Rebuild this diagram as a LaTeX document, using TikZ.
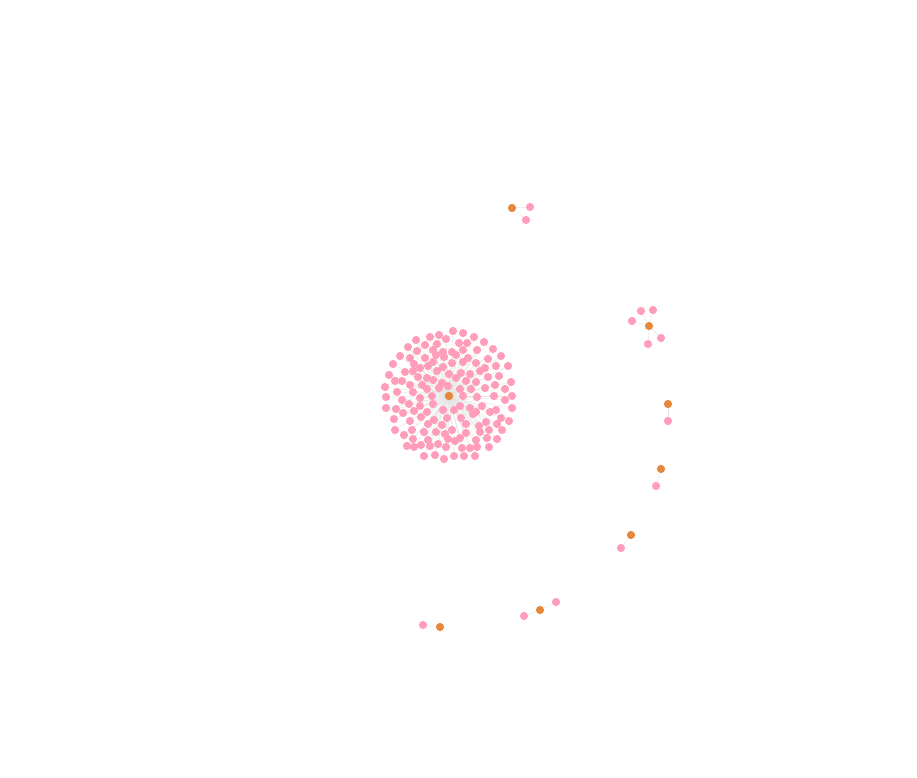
\documentclass[tikz,border=0pt]{standalone}
\usepackage{xcolor}
\usepackage{tikz}
\usetikzlibrary{positioning,backgrounds}
\definecolor{leafpink}{HTML}{FF9DBB}
\definecolor{huborange}{HTML}{E6883B}

\begin{document}
\begin{tikzpicture}[
    x=1pt, y=-1pt,
    leaf/.style={
        circle,
        fill=leafpink,
        inner sep=0pt,
        minimum size=8.2pt
    },
    hub/.style={
        circle,
        fill=huborange,
        inner sep=0pt,
        minimum size=8.2pt
    },
    tie/.style={draw=gray!22, line width=0.4pt}
]

\useasboundingbox (0,0) rectangle (917,777);

% central star
\node[hub] (c0) at (449,396) {};
\foreach \px/\py [count=\i] in {
453/331,463/333,439/335,474/337,430/337,
416/340,446/339,484/342,425/345,437/344,459/343,467/343,
408/347,493/349,433/350,452/352,463/350,477/350,443/352,417/351,
400/356,501/356,410/358,425/358,436/355,456/355,468/358,488/359,444/357,
393/364,508/366,414/364,433/362,452/363,463/362,476/363,496/366,420/368,485/368,443/367,428/366,
389/375,405/372,413/371,437/371,449/374,461/373,470/374,480/371,499/376,511/382,395/381,418/377,427/378,456/378,488/377,
385/387,402/381,410/385,422/385,433/380,442/383,466/381,476/382,495/385,505/389,397/392,413/392,427/389,439/388,460/389,471/389,485/388,
386/397,512/396,402/400,420/398,432/396,463/396,477/397,494/396,505/400,448/386,
386/408,396/409,409/404,420/406,433/404,443/410,460/406,470/408,482/406,496/410,512/408,403/413,414/411,427/412,454/410,476/412,490/412,
394/419,410/421,421/417,434/420,447/418,461/418,473/414,486/422,501/418,509/421,428/424,442/425,466/424,479/426,497/424,
395/430,412/430,424/432,436/432,452/430,466/433,480/432,489/430,502/430,404/435,445/434,
413/439,428/440,448/439,460/438,476/440,497/439,487/438,421/445,438/444,455/441,
407/446,430/446,446/447,462/448,477/447,489/447,414/447,424/456,435/455,444/459,454/456,464/456,475/456,470/448}
{
    \node[leaf] (q\i) at (\px,\py) {};
    \begin{scope}[on background layer]
        \draw[tie] (c0) -- (q\i);
    \end{scope}
}
\node[hub] (hub0) at (c0) {};

% small stars
\node[hub] (c1) at (512,208) {};
\node[leaf] (a1) at (530,207) {};
\node[leaf] (a2) at (526,220) {};

\node[hub] (c2) at (649,326) {};
\node[leaf] (b1) at (641,311) {};
\node[leaf] (b2) at (653,310) {};
\node[leaf] (b3) at (632,321) {};
\node[leaf] (b4) at (648,344) {};
\node[leaf] (b5) at (661,338) {};

\node[hub] (c3) at (668,404) {};
\node[leaf] (d1) at (668,421) {};

\node[hub] (c4) at (661,469) {};
\node[leaf] (e1) at (656,486) {};

\node[hub] (c5) at (631,535) {};
\node[leaf] (f1) at (621,548) {};

\node[hub] (c6) at (540,610) {};
\node[leaf] (g1) at (556,602) {};
\node[leaf] (g2) at (524,616) {};

\node[hub] (c7) at (440,627) {};
\node[leaf] (h1) at (423,625) {};

\begin{scope}[on background layer]
\foreach \a/\b in {c1/a1,c1/a2,c2/b1,c2/b2,c2/b3,c2/b4,c2/b5,c3/d1,c4/e1,c5/f1,c6/g1,c6/g2,c7/h1}
    \draw[tie] (\a) -- (\b);
\end{scope}

\end{tikzpicture}
\end{document}
